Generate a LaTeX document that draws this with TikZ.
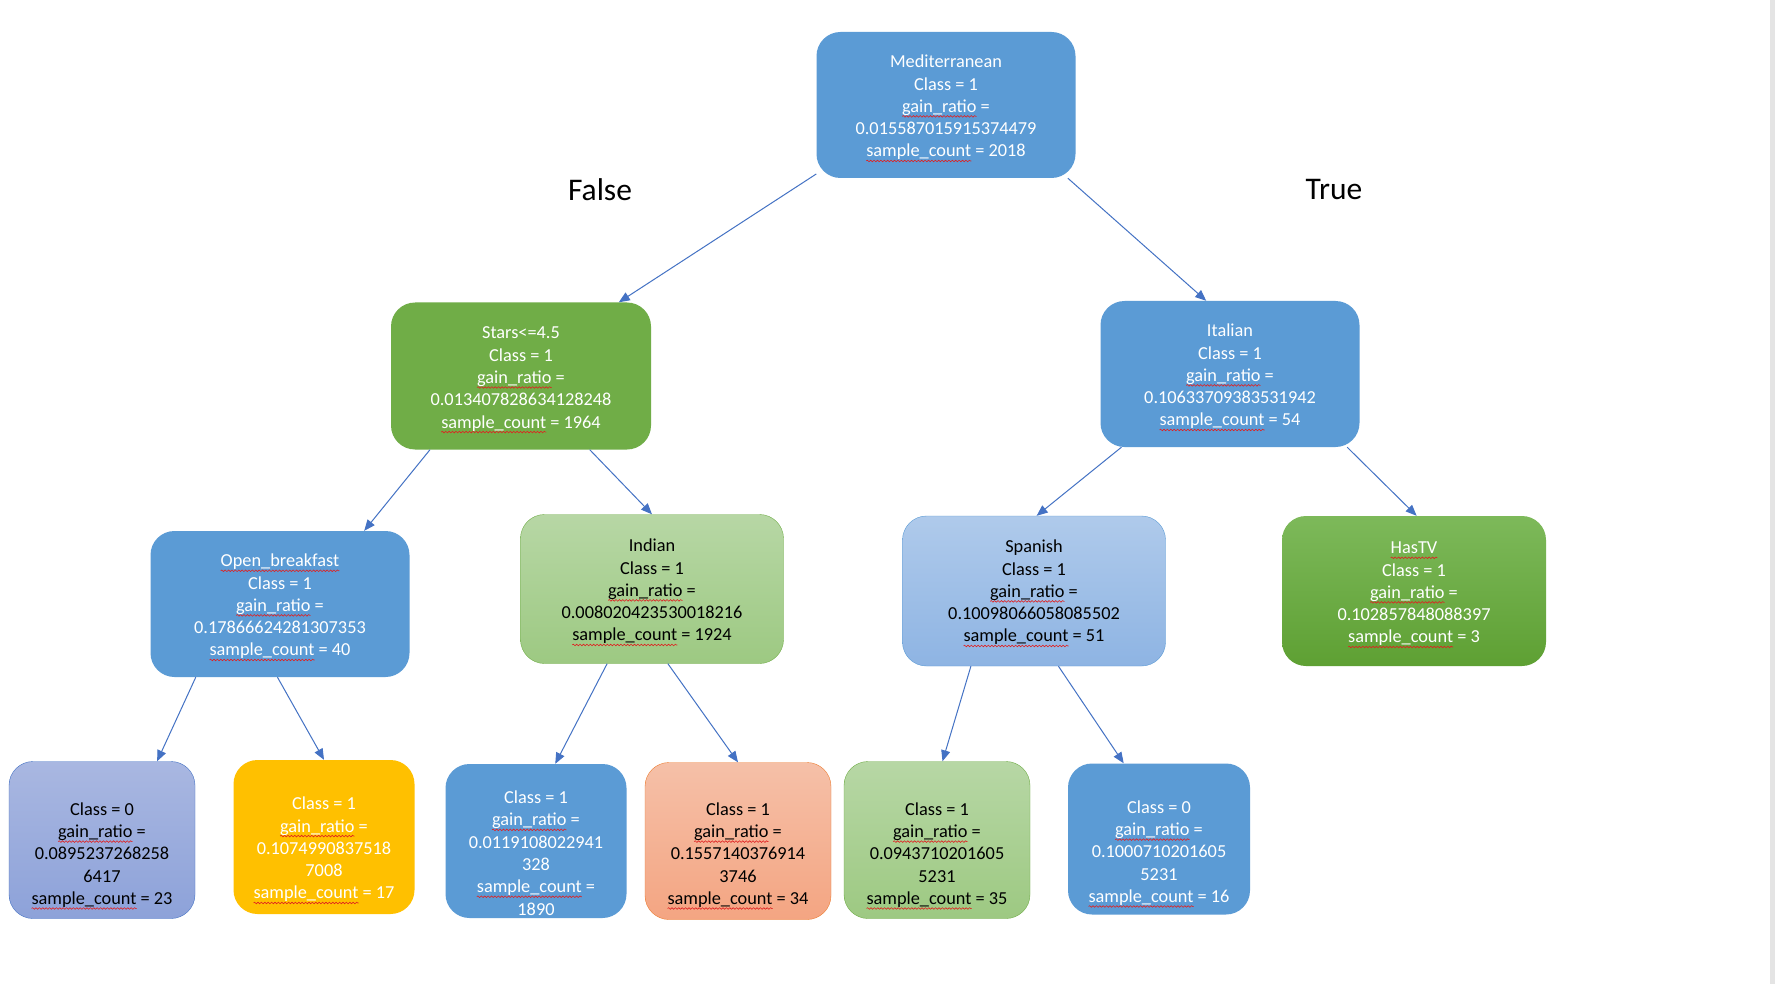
\documentclass[tikz,border=0pt]{standalone}
\usepackage{fontspec}
\setmainfont{Carlito}
\usetikzlibrary{arrows.meta,decorations.pathmorphing}
\definecolor{nodeblue}{HTML}{5B9BD5}
\definecolor{nodegreen}{HTML}{70AD47}
\definecolor{edgeblue}{HTML}{4472C4}
\definecolor{lgtop}{HTML}{B7D7A5}
\definecolor{lgbot}{HTML}{9DC982}
\definecolor{lbtop}{HTML}{AFCAEB}
\definecolor{lbbot}{HTML}{8EB4E3}
\definecolor{dgtop}{HTML}{7DB95A}
\definecolor{dgbot}{HTML}{5EA033}
\definecolor{pvtop}{HTML}{A9B7E1}
\definecolor{pvbot}{HTML}{8DA2D9}
\definecolor{ortop}{HTML}{F5C0A8}
\definecolor{orbot}{HTML}{F4A582}
\definecolor{orline}{HTML}{ED7D31}
\definecolor{gold}{HTML}{FFC000}
\definecolor{spellred}{HTML}{E02020}
\definecolor{edgegray}{HTML}{E4E4E4}

% red spell-check wave under a word
\newdimen\squigwd
\newcommand\squig[1]{\setbox0\hbox{#1}\squigwd=\wd0
  \rlap{\tikz[overlay,x=1pt,y=1pt]\draw[spellred,sharp corners,line width=0.6pt,
        decorate,decoration={snake,amplitude=0.8pt,segment length=3.4pt}]
        (0pt,-4pt) -- (\squigwd,-4pt);}\box0\relax}

\begin{document}
\begin{tikzpicture}[x=1pt,y=-1pt,
    box/.style={rounded corners=24pt,minimum width=259pt,minimum height=146pt,inner sep=0pt},
    leaf/.style={box,minimum width=184pt,minimum height=155pt},
    lbl/.style={align=center,inner sep=0pt,font=\fontsize{18.3}{22.3}\selectfont},
    edge/.style={draw=edgeblue,line width=1pt,-{Triangle[length=11pt,width=9pt]}},
    branch/.style={font=\fontsize{31.5}{36}\selectfont}]

  % --- canvas ---
  \fill[white] (0,0) rectangle (1775,984);
  \useasboundingbox (0,0) rectangle (1775,984);
  \fill[edgegray] (1770,0) rectangle (1775,984);

  % --- root ---
  \node[box,fill=nodeblue] (root) at (946,105) {};
  \node[lbl,text=white] (roott) at ([yshift=-2.5pt]root.center)
    {Mediterranean\\Class = 1\\\squig{gain\_ratio} =\\0.015587015915374479\\\squig{sample\_count} = 2018};

  \node[branch] (falselbl) at (600,190) {False};
  \node[branch] (truelbl) at (1334,190) {True};

  % --- second level ---
  \node[box,minimum width=260pt,minimum height=147pt,fill=nodegreen] (stars) at (521,376) {};
  \node[lbl,text=white] (starst) at ([yshift=-3pt]stars.center)
    {Stars<=4.5\\Class = 1\\\squig{gain\_ratio} =\\0.013407828634128248\\\squig{sample\_count} = 1964};
  \node[box,fill=nodeblue] (italian) at (1230,374) {};
  \node[lbl,text=white] (italiant) at ([yshift=-2.5pt]italian.center)
    {Italian\\Class = 1\\\squig{gain\_ratio} =\\0.10633709383531942\\\squig{sample\_count} = 54};

  % --- third level ---
  \node[box,fill=nodeblue] (openbf) at (280,604) {};
  \node[lbl,text=white] (openbft) at ([yshift=-2.5pt]openbf.center)
    {\squig{Open\_breakfast}\\Class = 1\\\squig{gain\_ratio} =\\0.17866624281307353\\\squig{sample\_count} = 40};
  \node[box,minimum width=263pt,minimum height=149pt,draw=nodegreen,top color=lgtop,bottom color=lgbot] (indian) at (652,589) {};
  \node[lbl] (indiant) at ([yshift=-2.5pt]indian.center)
    {Indian\\Class = 1\\\squig{gain\_ratio} =\\0.008020423530018216\\\squig{sample\_count} = 1924};
  \node[box,minimum width=263pt,minimum height=150pt,draw=nodeblue,top color=lbtop,bottom color=lbbot] (spanish) at (1034,591) {};
  \node[lbl] (spanisht) at ([yshift=-1.5pt]spanish.center)
    {Spanish\\Class = 1\\\squig{gain\_ratio} =\\0.10098066058085502\\\squig{sample\_count} = 51};
  \node[box,minimum width=264pt,minimum height=150pt,top color=dgtop,bottom color=dgbot] (hastv) at (1414,591) {};
  \node[lbl,text=white] (hastvt) at ([yshift=-3pt]hastv.center)
    {\squig{HasTV}\\Class = 1\\\squig{gain\_ratio} =\\0.102857848088397\\\squig{sample\_count} = 3};

  % --- leaves ---
  \node[leaf,minimum width=186pt,minimum height=157pt,draw=edgeblue,top color=pvtop,bottom color=pvbot] (leafa) at (102,840) {};
  \node[lbl] (leafat) at ([yshift=-15pt]leafa.center)
    {Class = 0\\\squig{gain\_ratio} =\\0.0895237268258\\6417\\\squig{sample\_count} = 23};
  \node[leaf,minimum width=181pt,minimum height=154pt,fill=gold] (leafb) at (324,837) {};
  \node[lbl,text=white] (leafbt) at ([yshift=-12.5pt]leafb.center)
    {Class = 1\\\squig{gain\_ratio} =\\0.1074990837518\\7008\\\squig{sample\_count} = 17};
  \node[leaf,minimum width=181pt,minimum height=154pt,fill=nodeblue] (leafc) at (536,841) {};
  \node[lbl,text=white] (leafct) at ([yshift=-12pt]leafc.center)
    {Class = 1\\\squig{gain\_ratio} =\\0.0119108022941\\328\\\squig{sample\_count} =\\1890};
  \node[leaf,minimum width=186pt,minimum height=157pt,draw=orline,top color=ortop,bottom color=orbot] (leafd) at (738,841) {};
  \node[lbl] (leafdt) at ([yshift=-14pt]leafd.center)
    {Class = 1\\\squig{gain\_ratio} =\\0.1557140376914\\3746\\\squig{sample\_count} = 34};
  \node[leaf,minimum width=186pt,minimum height=157pt,draw=nodegreen,top color=lgtop,bottom color=lgbot] (leafe) at (937,840) {};
  \node[lbl] (leafet) at ([yshift=-15pt]leafe.center)
    {Class = 1\\\squig{gain\_ratio} =\\0.0943710201605\\5231\\\squig{sample\_count} = 35};
  \node[leaf,minimum width=182pt,minimum height=151pt,fill=nodeblue] (leaff) at (1159,839) {};
  \node[lbl,text=white] (leafft) at ([yshift=-14pt]leaff.center)
    {Class = 0\\\squig{gain\_ratio} =\\0.1000710201605\\5231\\\squig{sample\_count} = 16};

  % --- connectors ---
  \foreach \a/\b in {root.208/stars.37, root.329/italian.108,
                     stars.219/openbf.41, stars.313/indian.90,
                     italian.214/spanish.88, italian.328/hastv.88,
                     openbf.221/leafa.55, openbf.268/leafb.90,
                     indian.239/leafc.76, indian.282/leafd.90,
                     spanish.230/leafe.86, spanish.288/leaff.115}
    \draw[edge] (\a) -- (\b);

\end{tikzpicture}
\end{document}
